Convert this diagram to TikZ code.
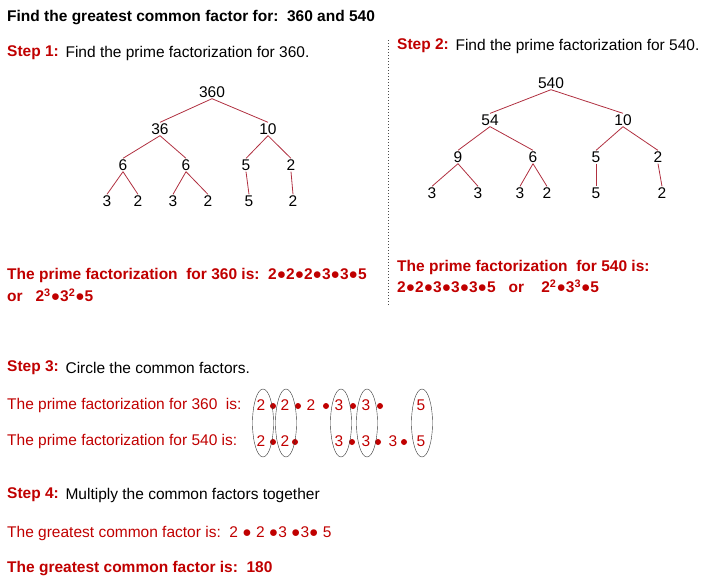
\documentclass[tikz,border=0pt]{standalone}
\usepackage{fontspec}
\usetikzlibrary{shapes.geometric}
\setmainfont{Liberation Sans}
\definecolor{tred}{HTML}{C00000}
\definecolor{lred}{HTML}{B03040}
\begin{document}
\begin{tikzpicture}[x=1pt,y=-1pt,
  every node/.style={font=\fontsize{15.5}{18}\selectfont, inner sep=1pt},
  lt/.style={anchor=west},
  br/.style={anchor=west,text=tred,font=\fontsize{15.5}{18}\selectfont\bfseries},
  rr/.style={anchor=west,text=tred},
  edge/.style={draw=lred, line width=0.8pt},
  dot/.style={circle,fill=tred,inner sep=0pt,minimum size=6pt},
  ring/.style={draw=black!80,ellipse,minimum width=21pt,minimum height=68pt,inner sep=0pt}]
\useasboundingbox (0,0) rectangle (713,584);
% title
\node[lt,font=\fontsize{15.5}{18}\selectfont\bfseries] (title) at (6,18) {Find the greatest common factor for:\ \ 360 and 540};
\node[br] (s1) at (6,53) {Step 1:};
\node[lt] (s1t) at (s1.east) {\ Find the prime factorization for 360.};
\node[br] (s2) at (396,46) {Step 2:};
\node[lt] (s2t) at (s2.east) {\ Find the prime factorization for 540.};
\coordinate (dtop) at (388,40); \coordinate (dbot) at (388,305);
\draw[dotted, line width=1pt, black!70] (dtop) -- (dbot);
% tree 1
\node (a) at (212,92) {360};
\node (b) at (160,129) {36}; \node (c) at (268,129) {10};
\node (d) at (123,165) {6}; \node (e) at (186,165) {6};
\node (f) at (246,165) {5}; \node (g) at (291,165) {2};
\node (h) at (107,201) {3}; \node (i) at (138,201) {2};
\node (j) at (173,201) {3}; \node (k) at (208,201) {2};
\node (l) at (249,201) {5}; \node (m) at (293,201) {2};
\foreach \p/\q in {a/b,a/c,b/d,b/e,c/f,c/g,d/h,d/i,e/j,e/k}
  \draw[edge] (\p.south) -- (\q.north);
\draw[edge] (f.south) -- (l.north);
\draw[edge] (g.south) -- (m.north);
% tree 2
\node (A) at (551,83) {540};
\node (B) at (490,120) {54}; \node (C) at (623,120) {10};
\node (D) at (458,157) {9}; \node (E) at (533,157) {6};
\node (F) at (596,157) {5}; \node (G) at (658,157) {2};
\node (H) at (432,193) {3}; \node (I) at (478,193) {3};
\node (J) at (520,193) {3}; \node (K) at (547,193) {2};
\node (L) at (596,193) {5}; \node (M) at (662,193) {2};
\foreach \p/\q in {A/B,A/C,B/D,B/E,C/F,C/G,D/H,D/I,E/J,E/K}
  \draw[edge] (\p.south) -- (\q.north);
\draw[edge] (F.south) -- (L.north);
\draw[edge] (G.south) -- (M.north);
% results
\node[br] (r1) at (6,275) {The prime factorization\ \ for 360 is:\ \ 2●2●2●3●3●5};
\node[br] (r1b) at (6,295) {or\ \ \ 2\textsuperscript{3}●3\textsuperscript{2}●5};
\node[br] (r2) at (396,267) {The prime factorization\ \ for 540 is:};
\node[br] (r2b) at (396,286) {2●2●3●3●3●5\ \ \ or\ \ \ \ 2\textsuperscript{2}●3\textsuperscript{3}●5};
% step 3
\node[br] (s3) at (6,368) {Step 3:};
\node[lt] (s3t) at (s3.east) {\ Circle the common factors.};
\node[rr] (p1) at (6,405) {The prime\ factorization for 360\ \ is:};
\node[rr] (p2) at (6,441) {The prime\ factorization for 540 is:};
\foreach \x/\t [count=\n] in {261/2,285/2,311/2,339/3,366/3,421/5}
  \node[text=tred] (u\n) at (\x,405) {\t};
\foreach \x [count=\n] in {273,298,326,353,380}
  \node[dot] (ud\n) at (\x,406) {};
\foreach \x/\t [count=\n] in {261/2,285/2,339/3,366/3,393/3,421/5}
  \node[text=tred] (w\n) at (\x,441) {\t};
\foreach \x [count=\n] in {273,295,352,378,404}
  \node[dot] (wd\n) at (\x,442) {};
\foreach \x [count=\n] in {263,286,341,367,422}
  \node[ring] (o\n) at (\x,423) {};
% step 4
\node[br] (s4) at (6,495) {Step 4:};
\node[lt] (s4t) at (s4.east) {\ Multiply the common factors together};
\node[rr] (g1) at (6,533) {The greatest common factor is:\ \ 2 ● 2 ●3 ●3● 5};
\node[br] (g2) at (6,569) {The greatest common factor is:\ \ 180};
\end{tikzpicture}
\end{document}
